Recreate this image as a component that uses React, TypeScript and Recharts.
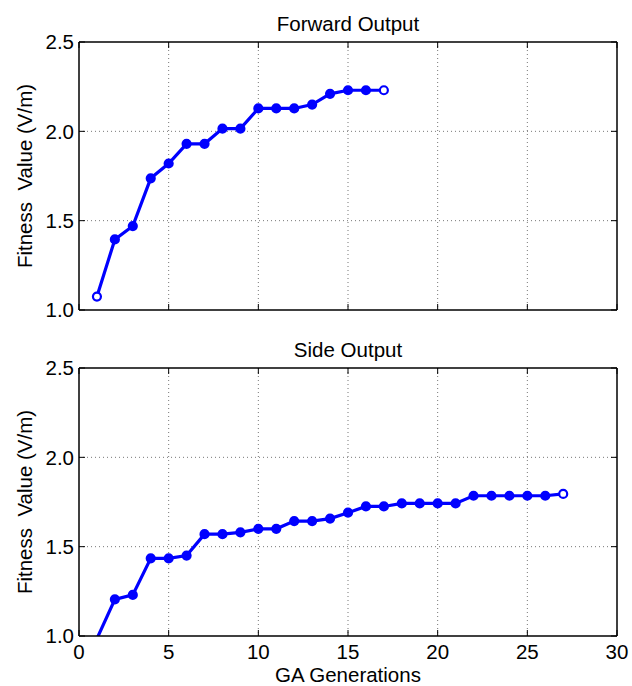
import React from 'react';
import { LineChart, Line, XAxis, YAxis, CartesianGrid, Label } from 'recharts';

const forwardGenerations = [1, 2, 3, 4, 5, 6, 7, 8, 9, 10, 11, 12, 13, 14, 15, 16, 17];
const forwardValues = [1.075, 1.395, 1.47, 1.737, 1.82, 1.93, 1.93, 2.015, 2.015, 2.128, 2.128, 2.128, 2.15, 2.21, 2.23, 2.23, 2.23];

const sideGenerations = [1, 2, 3, 4, 5, 6, 7, 8, 9, 10, 11, 12, 13, 14, 15, 16, 17, 18, 19, 20, 21, 22, 23, 24, 25, 26, 27];
const sideValues = [0.985, 1.205, 1.23, 1.435, 1.435, 1.45, 1.57, 1.57, 1.58, 1.6, 1.6, 1.643, 1.643, 1.657, 1.69, 1.725, 1.725, 1.742, 1.742, 1.742, 1.742, 1.785, 1.785, 1.785, 1.785, 1.785, 1.795];

const xTicks = [0, 5, 10, 15, 20, 25, 30];
const yTicks = [1.0, 1.5, 2.0, 2.5];
const yDomain: [number, number] = [1.0, 2.5];
const xDomain: [number, number] = [0, 30];

const titles = ['Forward Output', 'Side Output'];
const yLabel = 'Fitness  Value (V/m)';
const xLabel = 'GA Generations';

const FONT = '"Liberation Sans", Arial, Helvetica, sans-serif';
const FS = 20.5;
const BLUE = '#0000ff';

const buildRows = (xs: number[], ys: number[]) => xs.map((x, i) => ({ gen: x, value: ys[i] }));

const makeDot = (count: number, openFirst: boolean) => (props: any) => {
  const { cx, cy, index, value } = props;
  const v = Array.isArray(value) ? value[1] : value;
  if (v < yDomain[0] || cx == null || cy == null) return <g key={`d-${index}`} />;
  const open = index === count - 1 || (openFirst && index === 0);
  return (
    <circle
      key={`d-${index}`}
      cx={cx}
      cy={cy}
      r={4}
      fill={open ? '#ffffff' : BLUE}
      stroke={BLUE}
      strokeWidth={2.2}
    />
  );
};

const EmptyTick = () => <g />;

const YLabelContent = (props: any) => {
  const { viewBox } = props;
  const cy = viewBox.y + viewBox.height / 2;
  const x = 31.5;
  return (
    <text
      x={x}
      y={cy}
      transform={`rotate(-90 ${x} ${cy})`}
      textAnchor="middle"
      fontSize={FS}
      fontFamily={FONT}
      fill="#000"
      style={{ whiteSpace: 'pre' }}
      xmlSpace="preserve"
    >
      {yLabel}
    </text>
  );
};

const XLabelContent = (props: any) => {
  const { viewBox } = props;
  const cx = viewBox.x + viewBox.width / 2;
  return (
    <text x={cx} y={viewBox.y + viewBox.height - 4.5} textAnchor="middle" fontSize={FS} fontFamily={FONT} fill="#000">
      {xLabel}
    </text>
  );
};

const tickStyle = { fontSize: FS, fontFamily: FONT, fill: '#000' };
const axisLineStyle = { stroke: '#000', strokeWidth: 1.5 };
const tickLineStyle = { stroke: '#000', strokeWidth: 1 };

interface PanelProps {
  rows: { gen: number; value: number }[];
  title: string;
  showXLabels: boolean;
  height: number;
  plotTop: number;
  marginBottom: number;
  xAxisHeight: number;
  openFirst: boolean;
}

const Panel = ({ rows, title, showXLabels, height, plotTop, marginBottom, xAxisHeight, openFirst }: PanelProps) => (
  <LineChart
    width={632}
    height={height}
    data={rows}
    margin={{ top: plotTop - 1, right: 14, bottom: marginBottom, left: 0 }}
    style={{ fontFamily: FONT }}
  >
    <text x={348} y={plotTop - 11.5} textAnchor="middle" fontSize={FS} fontFamily={FONT} fill="#000">
      {title}
    </text>
    <CartesianGrid
      stroke="#777"
      strokeDasharray="1 3"
      strokeWidth={1}
      horizontalValues={[1.5, 2.0]}
      verticalValues={[5, 10, 15, 20, 25]}
    />
    <XAxis
      dataKey="gen"
      type="number"
      domain={xDomain}
      ticks={xTicks}
      interval={0}
      allowDataOverflow
      height={xAxisHeight}
      tick={showXLabels ? tickStyle : EmptyTick}
      tickSize={-6}
      tickMargin={14}
      axisLine={axisLineStyle}
      tickLine={tickLineStyle}
    >
      {showXLabels && <Label content={<XLabelContent />} />}
    </XAxis>
    <XAxis
      xAxisId="top"
      orientation="top"
      dataKey="gen"
      type="number"
      domain={xDomain}
      ticks={xTicks}
      interval={0}
      allowDataOverflow
      height={1}
      tick={EmptyTick}
      tickSize={-6}
      axisLine={axisLineStyle}
      tickLine={tickLineStyle}
    />
    <YAxis
      type="number"
      domain={yDomain}
      ticks={yTicks}
      interval={0}
      allowDataOverflow
      width={79}
      tick={tickStyle}
      tickFormatter={(v: number) => v.toFixed(1)}
      tickSize={-6}
      tickMargin={11}
      axisLine={axisLineStyle}
      tickLine={tickLineStyle}
    >
      <Label content={<YLabelContent />} />
    </YAxis>
    <YAxis
      yAxisId="right"
      orientation="right"
      type="number"
      domain={yDomain}
      ticks={yTicks}
      interval={0}
      allowDataOverflow
      width={1}
      tick={EmptyTick}
      tickSize={-6}
      axisLine={axisLineStyle}
      tickLine={tickLineStyle}
    />
    <Line
      type="linear"
      dataKey="value"
      stroke={BLUE}
      strokeWidth={3.2}
      dot={makeDot(rows.length, openFirst)}
      activeDot={false}
      isAnimationActive={false}
    />
  </LineChart>
);

export default function App() {
  const forwardRows = buildRows(forwardGenerations, forwardValues);
  const sideRows = buildRows(sideGenerations, sideValues);
  return (
    <div style={{ position: 'absolute', left: 0, top: 0, width: 632, height: 686, background: '#fff' }}>
      <Panel
        rows={forwardRows}
        title={titles[0]}
        showXLabels={false}
        height={330}
        plotTop={42}
        marginBottom={19}
        xAxisHeight={1}
        openFirst={true}
      />
      <Panel
        rows={sideRows}
        title={titles[1]}
        showXLabels={true}
        height={356}
        plotTop={38}
        marginBottom={0}
        xAxisHeight={50}
        openFirst={false}
      />
    </div>
  );
}
